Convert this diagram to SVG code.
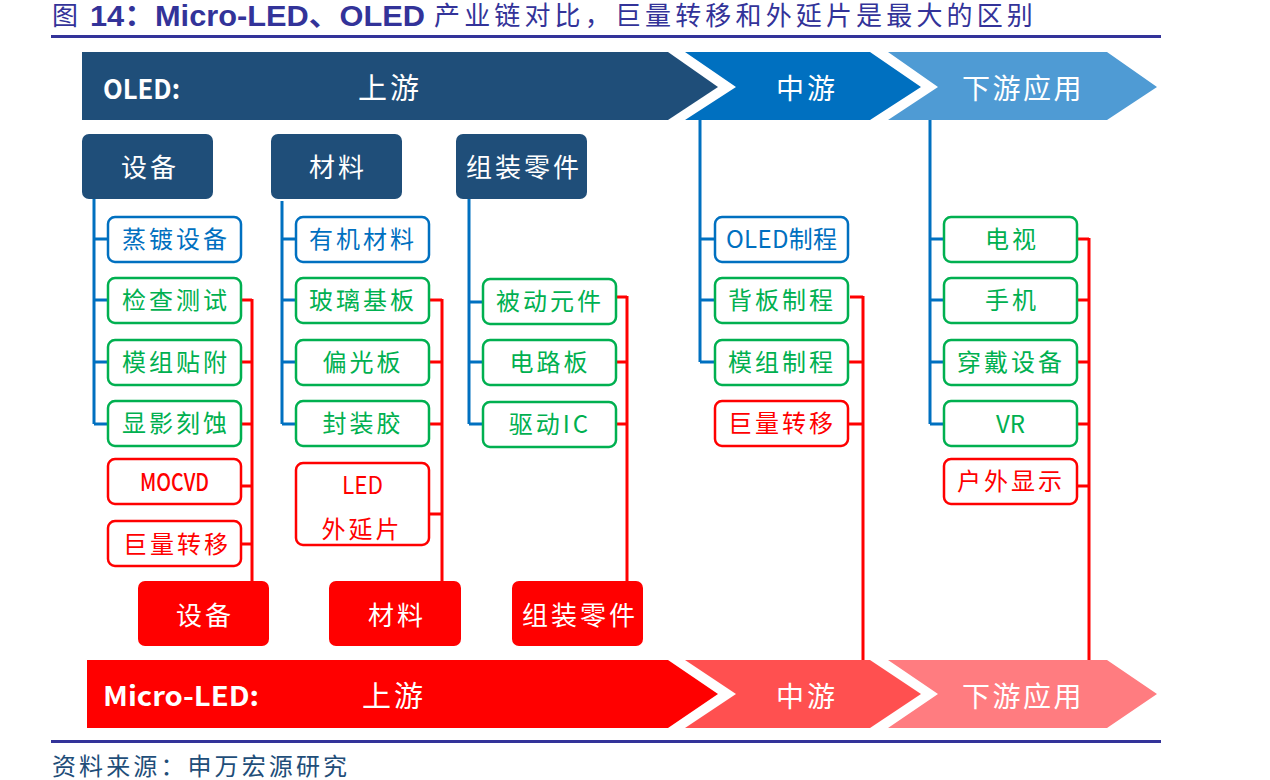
<svg xmlns="http://www.w3.org/2000/svg" width="1270" height="780" viewBox="0 0 1270 780">
<style>
text{font-family:"Noto Sans CJK SC","Noto Sans",sans-serif}
.t{font-size:24px;letter-spacing:3px;text-anchor:middle}
.h{font-size:26px;letter-spacing:3px;text-anchor:middle;fill:#fff}
.b{fill:#1F4E79}
.r{fill:#f00}
.bx{fill:#fff;stroke-width:2.5}
.bb{stroke:#0070C0}.gb{stroke:#00B050}.rb{stroke:#f00}
.cb{fill:#0070C0}.cg{fill:#00B050}.cr{fill:#f00}
.bl{stroke:#0070C0;stroke-width:3;fill:none}
.rl{stroke:#f00;stroke-width:3;fill:none}
.rule{stroke:#333399;stroke-width:3}
.title{font-family:"Liberation Sans","Noto Sans CJK SC",sans-serif;font-size:26px;letter-spacing:4.150px;fill:#333399}
.titleb{font-family:"Liberation Sans","Noto Sans CJK SC",sans-serif;font-size:29px;font-weight:700;fill:#333399}
.l{font-size:27px;font-weight:700;fill:#fff}
.src{font-size:24px;letter-spacing:3.100px;fill:#1F4E79}
</style>
<g id="header">
<text class="title" x="52" y="25">图</text>
<text class="titleb" x="90" y="26" textLength="335" lengthAdjust="spacingAndGlyphs">14：Micro-LED、OLED</text>
<text class="title" x="434" y="25">产业链对比，巨量转移和外延片是最大的区别</text>
<line class="rule" x1="51" y1="36.500" x2="1161" y2="36.500"/>
</g>
<g id="connectors">
<path class="bl" d="M94 199V424M94 239H108M94 300H108M94 362H108M94 424H108"/>
<path class="bl" d="M282 201V424M282 239H296M282 300H296M282 362H296M282 424H296"/>
<path class="bl" d="M469 199V424M469 302H483M469 362H483M469 424H483"/>
<path class="bl" d="M700 120V362M700 239H715M700 300H715M700 362H715"/>
<path class="bl" d="M930 120V424M930 239H944M930 300H944M930 362H944M930 424H944"/>
<path class="rl" d="M241 300H252M252 299V581M241 362H252M241 424H252M241 486H252M241 544H252"/>
<path class="rl" d="M429 300H442M442 299V581M429 362H442M429 424H442M429 514H442"/>
<path class="rl" d="M616 297H627M627 296V581M616 362H627M616 424H627"/>
<path class="rl" d="M850 297H863M863 296V660M848 362H863M848 424H863"/>
<path class="rl" d="M1077 239H1089M1089 238V660M1077 300H1089M1077 362H1089M1077 424H1089M1077 486H1089"/>
</g>
<g id="oled-up"><path d="M82 52H668L718 87 668 120H82Z" fill="#1F4E79"/>
<text class="l" x="103" y="99" textLength="77" lengthAdjust="spacingAndGlyphs">OLED:</text><text class="h" x="390" y="99" style="font-size:29px">上游</text></g>
<g id="oled-mid"><path d="M685 52H870L921 87 870 120H685L736 87Z" fill="#0070C0"/><text class="h" x="807" y="99" style="font-size:28px">中游</text></g>
<g id="oled-down"><path d="M888 52H1107L1157 87 1107 120H888L938 87Z" fill="#4F9BD4"/><text class="h" x="1023" y="99" style="font-size:28px;letter-spacing:2.500px">下游应用</text></g>
<g id="micro-up"><path d="M87 660H668L718 694 668 728H87Z" fill="#f00"/>
<text class="l" x="103" y="706" textLength="156" lengthAdjust="spacingAndGlyphs">Micro-LED:</text><text class="h" x="394" y="707" style="font-size:29px">上游</text></g>
<g id="micro-mid"><path d="M685 660H870L921 694 870 728H685L736 694Z" fill="#FF5050"/><text class="h" x="807" y="707" style="font-size:28px">中游</text></g>
<g id="micro-down"><path d="M888 660H1107L1157 694 1107 728H888L938 694Z" fill="#FF7C80"/><text class="h" x="1023" y="707" style="font-size:28px;letter-spacing:2.500px">下游应用</text></g>

<g id="h1"><rect class="b" x="82" y="134" width="131" height="65" rx="7"/><text class="h" x="150" y="177">设备</text></g>
<g id="h2"><rect class="b" x="271" y="134" width="131" height="65" rx="7"/><text class="h" x="338" y="177">材料</text></g>
<g id="h3"><rect class="b" x="456" y="134" width="131" height="65" rx="7"/><text class="h" x="524" y="177">组装零件</text></g>
<g id="r1"><rect class="r" x="138" y="581" width="131" height="65" rx="7"/><text class="h" x="205" y="625">设备</text></g>
<g id="r2"><rect class="r" x="329" y="581" width="132" height="65" rx="7"/><text class="h" x="397" y="625">材料</text></g>
<g id="r3"><rect class="r" x="512" y="581" width="131" height="65" rx="7"/><text class="h" x="580" y="625">组装零件</text></g>

<g id="n1"><rect class="bx bb" x="108" y="217" width="133" height="45" rx="7"/><text class="t cb" x="176" y="248">蒸镀设备</text></g>
<g id="n2"><rect class="bx gb" x="108" y="278" width="133" height="45" rx="7"/><text class="t cg" x="176" y="309">检查测试</text></g>
<g id="n3"><rect class="bx gb" x="108" y="340" width="133" height="45" rx="7"/><text class="t cg" x="176" y="371">模组贴附</text></g>
<g id="n4"><rect class="bx gb" x="108" y="401" width="133" height="45" rx="7"/><text class="t cg" x="176" y="432">显影刻蚀</text></g>
<g id="n5"><rect class="bx rb" x="108" y="459" width="133" height="45" rx="7"/><text class="cr" x="140" y="491" font-size="24" font-weight="500" textLength="69" lengthAdjust="spacingAndGlyphs">MOCVD</text></g>
<g id="n6"><rect class="bx rb" x="108" y="521" width="133" height="45" rx="7"/><text class="t cr" x="177" y="553">巨量转移</text></g>

<g id="m1"><rect class="bx bb" x="296" y="217" width="133" height="45" rx="7"/><text class="t cb" x="363" y="248">有机材料</text></g>
<g id="m2"><rect class="bx gb" x="296" y="278" width="133" height="45" rx="7"/><text class="t cg" x="363" y="309">玻璃基板</text></g>
<g id="m3"><rect class="bx gb" x="296" y="340" width="133" height="45" rx="7"/><text class="t cg" x="363" y="371">偏光板</text></g>
<g id="m4"><rect class="bx gb" x="296" y="401" width="133" height="45" rx="7"/><text class="t cg" x="363" y="432">封装胶</text></g>
<g id="m5"><rect class="bx rb" x="296" y="463" width="133" height="82" rx="7"/><text class="cr" x="342" y="494" font-size="24" textLength="41" lengthAdjust="spacingAndGlyphs">LED</text><text class="t cr" x="362" y="538">外延片</text></g>

<g id="p1"><rect class="bx gb" x="483" y="279" width="133" height="45" rx="7"/><text class="t cg" x="550" y="310">被动元件</text></g>
<g id="p2"><rect class="bx gb" x="483" y="340" width="133" height="45" rx="7"/><text class="t cg" x="550" y="371">电路板</text></g>
<g id="p3"><rect class="bx gb" x="483" y="402" width="133" height="45" rx="7"/><text class="t cg" x="550" y="433">驱动IC</text></g>

<g id="q1"><rect class="bx bb" x="715" y="217" width="133" height="45" rx="7"/><text class="cb" x="726" y="248" font-size="24" textLength="111" lengthAdjust="spacing">OLED制程</text></g>
<g id="q2"><rect class="bx gb" x="715" y="278" width="133" height="45" rx="7"/><text class="t cg" x="782" y="309">背板制程</text></g>
<g id="q3"><rect class="bx gb" x="715" y="340" width="133" height="45" rx="7"/><text class="t cg" x="782" y="371">模组制程</text></g>
<g id="q4"><rect class="bx rb" x="715" y="401" width="133" height="45" rx="7"/><text class="t cr" x="782" y="432">巨量转移</text></g>

<g id="d1"><rect class="bx gb" x="944" y="217" width="133" height="45" rx="7"/><text class="t cg" x="1012" y="248">电视</text></g>
<g id="d2"><rect class="bx gb" x="944" y="278" width="133" height="45" rx="7"/><text class="t cg" x="1012" y="309">手机</text></g>
<g id="d3"><rect class="bx gb" x="944" y="340" width="133" height="45" rx="7"/><text class="t cg" x="1011" y="371">穿戴设备</text></g>
<g id="d4"><rect class="bx gb" x="944" y="401" width="133" height="45" rx="7"/><text class="cg" x="996" y="433" font-size="24" textLength="29" lengthAdjust="spacingAndGlyphs">VR</text></g>
<g id="d5"><rect class="bx rb" x="944" y="459" width="133" height="45" rx="7"/><text class="t cr" x="1011" y="490">户外显示</text></g>

<g id="footer">
<line class="rule" x1="51" y1="741.500" x2="1161" y2="741.500"/>
<text class="src" x="52" y="775">资料来源：申万宏源研究</text>
</g>
</svg>
